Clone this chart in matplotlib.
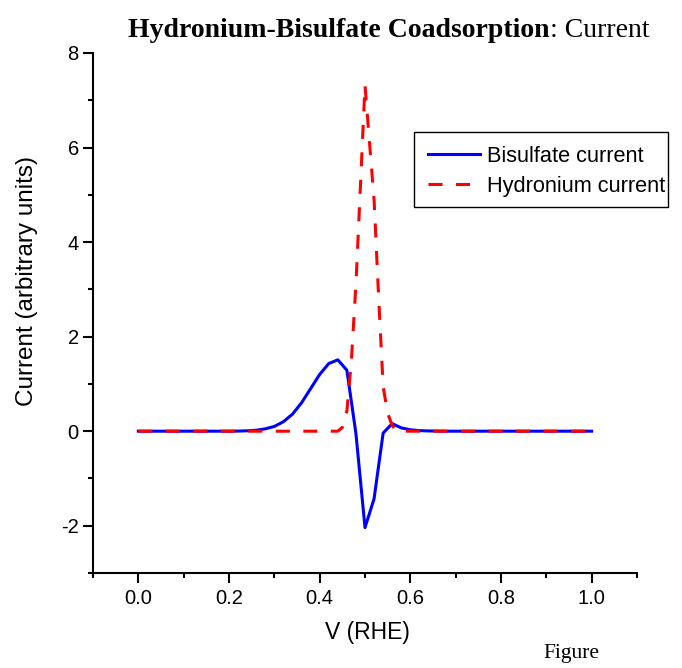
import matplotlib
matplotlib.use('Agg')
import matplotlib.pyplot as plt
from matplotlib.ticker import MultipleLocator, FixedLocator
from matplotlib.patches import Rectangle

# ---------------- data ----------------
bisulfate_v = [0.00, 0.02, 0.04, 0.06, 0.08, 0.10, 0.12, 0.14, 0.16, 0.18,
               0.20, 0.22, 0.24, 0.26, 0.28, 0.30, 0.32, 0.34, 0.36, 0.38,
               0.40, 0.42, 0.44, 0.46, 0.48, 0.50, 0.52, 0.54, 0.56, 0.58,
               0.60, 0.62, 0.64, 0.66, 0.68, 0.70, 0.72, 0.74, 0.76, 0.78,
               0.80, 0.82, 0.84, 0.86, 0.88, 0.90, 0.92, 0.94, 0.96, 0.98,
               1.00]
bisulfate_current = [0.0, 0.0, 0.0, 0.0, 0.0, 0.0, 0.0, 0.0, 0.0, 0.0,
                     0.0, 0.002, 0.008, 0.02, 0.05, 0.10, 0.20, 0.36, 0.60, 0.90,
                     1.20, 1.43, 1.51, 1.29, -0.05, -2.04, -1.43, -0.04, 0.16, 0.07,
                     0.03, 0.012, 0.005, 0.002, 0.0, 0.0, 0.0, 0.0, 0.0, 0.0,
                     0.0, 0.0, 0.0, 0.0, 0.0, 0.0, 0.0, 0.0, 0.0, 0.0,
                     0.0]

hydronium_v = [0.00, 0.02, 0.04, 0.06, 0.08, 0.10, 0.12, 0.14, 0.16, 0.18,
               0.20, 0.22, 0.24, 0.26, 0.28, 0.30, 0.32, 0.34, 0.36, 0.38,
               0.40, 0.42, 0.44, 0.45, 0.46, 0.47, 0.48, 0.49, 0.50, 0.51,
               0.52, 0.53, 0.54, 0.55, 0.56, 0.57, 0.58, 0.60, 0.62, 0.64,
               0.66, 0.68, 0.70, 0.72, 0.74, 0.76, 0.78, 0.80, 0.82, 0.84,
               0.86, 0.88, 0.90, 0.92, 0.94, 0.96, 0.98, 1.00]
hydronium_current = [0.0, 0.0, 0.0, 0.0, 0.0, 0.0, 0.0, 0.0, 0.0, 0.0,
                     0.0, 0.0, 0.0, 0.0, 0.0, 0.0, 0.0, 0.0, 0.0, 0.0,
                     0.0, 0.0, 0.0, 0.08, 0.42, 1.50, 3.10, 5.20, 7.32, 6.10,
                     4.90, 2.85, 0.95, 0.38, 0.12, 0.0, 0.0, 0.0, 0.0, 0.0,
                     0.0, 0.0, 0.0, 0.0, 0.0, 0.0, 0.0, 0.0, 0.0, 0.0,
                     0.0, 0.0, 0.0, 0.0, 0.0, 0.0, 0.0, 0.0]

series_labels = ['Bisulfate current', 'Hydronium current']
x_ticks = [0.0, 0.2, 0.4, 0.6, 0.8, 1.0]
x_tick_labels = ['0.0', '0.2', '0.4', '0.6', '0.8', '1.0']
y_ticks = [-2, 0, 2, 4, 6, 8]
y_tick_labels = ['-2', '0', '2', '4', '6', '8']
title_bold = 'Hydronium-Bisulfate Coadsorption'
title_regular = ': Current'
x_label = 'V (RHE)'
y_label = 'Current (arbitrary units)'
footer = 'Figure'

# ---------------- figure ----------------
W, H = 682, 668
fig = plt.figure(figsize=(W / 100, H / 100), dpi=100)
ax = fig.add_axes([93 / W, 1 - 573 / H, 544 / W, 520 / H])

sans = 'Liberation Sans'
serif = 'Liberation Serif'

ax.plot(bisulfate_v, bisulfate_current, color='#0000ff', lw=2.2,
        label=series_labels[0], zorder=3)
ax.plot(hydronium_v, hydronium_current, color='#ff0000', lw=2.2,
        dashes=(4.6, 4.4), label=series_labels[1], zorder=4)

ax.set_xlim(-0.1, 1.1)
ax.set_ylim(-3, 8)

for s in ['top', 'right']:
    ax.spines[s].set_visible(False)
for s in ['left', 'bottom']:
    ax.spines[s].set_linewidth(1.5)

ax.xaxis.set_major_locator(FixedLocator(x_ticks))
ax.set_xticklabels(x_tick_labels)
ax.xaxis.set_minor_locator(MultipleLocator(0.1))
ax.yaxis.set_major_locator(FixedLocator(y_ticks))
ax.set_yticklabels(y_tick_labels)
ax.yaxis.set_minor_locator(MultipleLocator(1))

ax.tick_params(which='major', direction='out', length=7.2, width=1.5,
               labelsize=14.5)
ax.tick_params(which='minor', direction='out', length=3.6, width=1.5)
ax.tick_params(axis='x', which='major', pad=4)
ax.tick_params(axis='y', which='major', pad=3)
for lab in ax.get_xticklabels() + ax.get_yticklabels():
    lab.set_family(sans)

fig.text(367 / W, 1 - 633 / H, x_label, family=sans, size=16.5,
         ha='center', va='center')
fig.text(27 / W, 1 - 281 / H, y_label, family=sans, size=17.5,
         ha='center', va='center', rotation=90)

t1 = fig.text(128 / W, 1 - 37 / H, title_bold, family=serif, weight='bold',
              size=20, ha='left', va='baseline')
fig.canvas.draw()
bb = t1.get_window_extent()
fig.text(bb.x1 / W, 1 - 37 / H, title_regular, family=serif, size=20,
         ha='left', va='baseline')

fig.text(543 / W, 1 - 658 / H, footer, family=serif, size=15.5,
         ha='left', va='baseline')

# legend: entries without frame, frame drawn separately
frame = Rectangle((414 / W, 1 - 207 / H), (668 - 414) / W, (207 - 132) / H,
                  transform=fig.transFigure, fill=True, facecolor='white',
                  edgecolor='black', linewidth=1.0, zorder=5, clip_on=False)
ax.add_patch(frame)
leg = ax.legend(loc='upper left', bbox_to_anchor=(428 / W, 1 - 146 / H),
                bbox_transform=fig.transFigure, frameon=False,
                prop={'family': sans, 'size': 15.7}, handlelength=2.4,
                handletextpad=0.32, borderpad=0, labelspacing=0.4,
                borderaxespad=0)
leg.set_zorder(6)

fig.savefig('out.png', dpi=100)
